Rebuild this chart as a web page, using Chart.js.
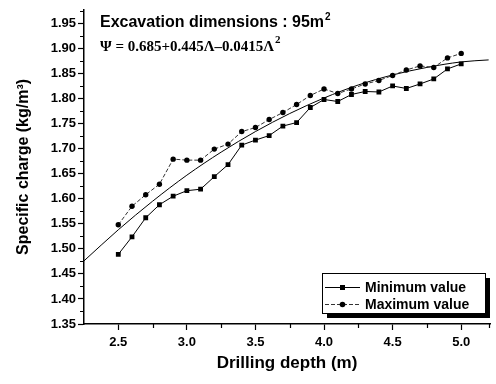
<!DOCTYPE html>
<html>
<head>
<meta charset="utf-8">
<script src="https://cdn.jsdelivr.net/npm/chart.js@4/dist/chart.umd.min.js"></script>
<style>
  html, body { margin: 0; padding: 0; background: #fff; }
  #wrap { width: 496px; height: 384px; }
</style>
</head>
<body>
<div id="wrap"><canvas id="c" width="496" height="384"></canvas></div>
<script>
// ---- data ----
const depth = [2.5, 2.6, 2.7, 2.8, 2.9, 3.0, 3.1, 3.2, 3.3, 3.4, 3.5, 3.6, 3.7, 3.8, 3.9, 4.0, 4.1, 4.2, 4.3, 4.4, 4.5, 4.6, 4.7, 4.8, 4.9, 5.0];
const minValue = [1.489, 1.524, 1.562, 1.588, 1.605, 1.616, 1.619, 1.644, 1.668, 1.707, 1.717, 1.726, 1.745, 1.752, 1.782, 1.798, 1.794, 1.808, 1.814, 1.813, 1.825, 1.820, 1.829, 1.839, 1.859, 1.869];
const maxValue = [1.548, 1.585, 1.608, 1.629, 1.679, 1.677, 1.677, 1.699, 1.709, 1.734, 1.742, 1.758, 1.772, 1.788, 1.806, 1.819, 1.810, 1.819, 1.829, 1.836, 1.846, 1.857, 1.865, 1.862, 1.881, 1.890];
const fitDepth = [2.25, 2.5, 2.75, 3.0, 3.25, 3.5, 3.75, 4.0, 4.25, 4.5, 4.75, 5.0, 5.2];
const fitValue = [1.476, 1.538, 1.595, 1.647, 1.693, 1.734, 1.770, 1.801, 1.827, 1.847, 1.862, 1.873, 1.877];
const xTicks = [2.5, 3.0, 3.5, 4.0, 4.5, 5.0];
const xMinorTicks = [2.75, 3.25, 3.75, 4.25, 4.75];
const yTicks = [1.35, 1.40, 1.45, 1.50, 1.55, 1.60, 1.65, 1.70, 1.75, 1.80, 1.85, 1.90, 1.95];
const yMinorTicks = [1.375, 1.425, 1.475, 1.525, 1.575, 1.625, 1.675, 1.725, 1.775, 1.825, 1.875, 1.925, 1.975];
const seriesNames = ['Minimum value', 'Maximum value'];
const noteLine1 = 'Excavation dimensions : 95m';
const noteLine2 = 'Ψ = 0.685+0.445Λ–0.0415Λ';
const xTitle = 'Drilling depth (m)';
const yTitle = 'Specific charge (kg/m³)';

const SANS = '"Liberation Sans", Arial, sans-serif';
const SERIF = '"Liberation Serif", "Times New Roman", serif';

const toXY = (xs, ys) => xs.map((x, i) => ({ x: x, y: ys[i] }));

const minorTicks = {
  id: 'minorTicks',
  afterDraw(chart) {
    const ctx = chart.ctx;
    const xs = chart.scales.x, ys = chart.scales.y;
    const a = chart.chartArea;
    ctx.save();
    ctx.strokeStyle = '#000';
    ctx.lineWidth = 1.2;
    ctx.beginPath();
    xMinorTicks.forEach(v => {
      const p = Math.round(xs.getPixelForValue(v)) + 0.5;
      ctx.moveTo(p, a.bottom); ctx.lineTo(p, a.bottom + 4);
    });
    const pe = Math.round(xs.getPixelForValue(xs.max)) - 0.5;
    ctx.moveTo(pe, a.bottom); ctx.lineTo(pe, a.bottom + 4);
    yMinorTicks.forEach(v => {
      const p = Math.round(ys.getPixelForValue(v)) + 0.5;
      ctx.moveTo(a.left, p); ctx.lineTo(a.left - 4, p);
    });
    ctx.stroke();
    ctx.restore();
  }
};

const notes = {
  id: 'notes',
  afterDraw(chart) {
    const ctx = chart.ctx;
    ctx.save();
    ctx.fillStyle = '#000';
    ctx.textBaseline = 'alphabetic';
    ctx.textAlign = 'left';
    // line 1
    ctx.font = 'bold 16px ' + SANS;
    ctx.fillText(noteLine1, 100, 27);
    let w = ctx.measureText(noteLine1).width;
    ctx.font = 'bold 10px ' + SANS;
    ctx.fillText('2', 100 + w + 1, 20);
    // line 2
    ctx.font = 'bold 15px ' + SERIF;
    ctx.fillText(noteLine2, 100, 51);
    w = ctx.measureText(noteLine2).width;
    ctx.font = 'bold 11px ' + SERIF;
    ctx.fillText('2', 100 + w + 1, 43);

    // legend box
    const L = 322, T = 273, R = 485, B = 313;
    ctx.fillStyle = '#000';
    ctx.fillRect(L + 5, T + 5, R - L, B - T);
    ctx.fillStyle = '#fff';
    ctx.fillRect(L, T, R - L, B - T);
    ctx.strokeStyle = '#000';
    ctx.lineWidth = 1;
    ctx.strokeRect(L + 0.5, T + 0.5, R - L, B - T);
    const rows = [T + 14, T + 31];
    const ds = chart.data.datasets;
    rows.forEach((ry, i) => {
      const d = ds[i];
      ctx.strokeStyle = d.borderColor;
      ctx.lineWidth = d.borderWidth;
      ctx.setLineDash(d.borderDash || []);
      ctx.beginPath();
      ctx.moveTo(L + 3, ry + 0.5); ctx.lineTo(L + 38, ry + 0.5);
      ctx.stroke();
      ctx.setLineDash([]);
      ctx.fillStyle = '#000';
      if (d.pointStyle === 'rect') {
        ctx.fillRect(L + 18, ry - 2, 5, 5);
      } else {
        ctx.beginPath(); ctx.arc(L + 20.5, ry + 0.5, 2.8, 0, Math.PI * 2); ctx.fill();
      }
      ctx.font = 'bold 14px ' + SANS;
      ctx.textBaseline = 'middle';
      ctx.fillText(seriesNames[i], L + 43, ry + 1);
    });
    ctx.restore();
  }
};

new Chart(document.getElementById('c'), {
  type: 'scatter',
  data: {
    datasets: [
      {
        label: seriesNames[0],
        data: toXY(depth, minValue),
        showLine: true,
        borderColor: '#000',
        backgroundColor: '#000',
        borderWidth: 1,
        pointStyle: 'rect',
        pointRadius: 3.4,
        pointBorderWidth: 0,
        pointHoverRadius: 3.4
      },
      {
        label: seriesNames[1],
        data: toXY(depth, maxValue),
        showLine: true,
        borderColor: '#333',
        backgroundColor: '#000',
        borderWidth: 1,
        borderDash: [4, 2],
        pointStyle: 'circle',
        pointRadius: 2.7,
        pointBorderWidth: 0,
        pointHoverRadius: 2.7
      },
      {
        label: 'fit',
        data: toXY(fitDepth, fitValue),
        showLine: true,
        borderColor: '#000',
        borderWidth: 1,
        pointRadius: 0,
        cubicInterpolationMode: 'monotone'
      }
    ]
  },
  options: {
    responsive: false,
    animation: false,
    devicePixelRatio: 1,
    layout: { padding: { top: 6, right: 6, left: 0, bottom: 10 } },
    plugins: { legend: { display: false }, tooltip: { enabled: false } },
    scales: {
      x: {
        type: 'linear',
        min: 2.25,
        max: 5.21,
        afterBuildTicks: s => { s.ticks = xTicks.map(v => ({ value: v })); },
        afterFit: s => { s.height = 50; },
        ticks: {
          callback: v => Number(v).toFixed(1),
          color: '#000',
          font: { family: SANS, size: 13, weight: 'bold' },
          padding: 5,
          maxRotation: 0,
          autoSkip: false
        },
        grid: { drawOnChartArea: false, drawTicks: true, tickLength: 6, tickColor: '#000', tickWidth: 1.2 },
        border: { display: true, color: '#000', width: 1.5 },
        title: { display: true, text: xTitle, color: '#000', font: { family: SANS, size: 17, weight: 'bold' }, padding: { top: 6, bottom: 0 } }
      },
      y: {
        type: 'linear',
        min: 1.35,
        max: 1.977,
        afterBuildTicks: s => { s.ticks = yTicks.map(v => ({ value: v })); },
        afterFit: s => { s.width = 84; },
        ticks: {
          callback: v => Number(v).toFixed(2),
          color: '#000',
          font: { family: SANS, size: 13, weight: 'bold' },
          padding: 2,
          autoSkip: false
        },
        grid: { drawOnChartArea: false, drawTicks: true, tickLength: 6, tickColor: '#000', tickWidth: 1.2 },
        border: { display: true, color: '#000', width: 1.5 },
        title: { display: true, text: yTitle, color: '#000', font: { family: SANS, size: 16, weight: 'bold' }, padding: { top: 14, bottom: 0 } }
      }
    }
  },
  plugins: [minorTicks, notes]
});
</script>
</body>
</html>
